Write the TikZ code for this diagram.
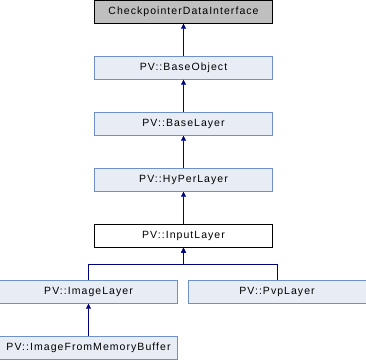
\documentclass[tikz,border=0pt]{standalone}
\usepackage{fontspec}
\setmainfont[LetterSpace=10]{Liberation Sans}
\usepackage{tikz}
\usetikzlibrary{positioning, arrows.meta}

\definecolor{boxfill}{HTML}{E8ECF4}
\definecolor{boxline}{HTML}{7090CC}
\definecolor{basefill}{HTML}{BFBFBF}
\definecolor{edgeblue}{HTML}{000080}

\tikzset{
  cls/.style={draw=boxline, fill=boxfill, minimum width=178pt, minimum height=23pt,
              inner sep=0pt, font=\fontsize{10.5}{12}\selectfont},
  iface/.style={cls, draw=black, fill=basefill},
  focus/.style={cls, draw=black, fill=white},
  inherit/.style={draw=edgeblue, thick, {Triangle[length=5pt,width=5pt]}-}
}

\begin{document}
\begin{tikzpicture}[x=1pt, y=1pt, node distance=56pt, on grid]
   \useasboundingbox (0,0) rectangle (366,-360);
   \node[iface] (cdi) at (183.5,-12) {CheckpointerDataInterface};
   \node[cls] (bo) [below=of cdi] {PV::BaseObject};
   \node[cls] (bl) [below=of bo] {PV::BaseLayer};
   \node[cls] (hpl) [below=of bl] {PV::HyPerLayer};
   \node[focus] (inp) [below=of hpl] {PV::InputLayer};
   \node[cls] (img) [below left=56pt and 95pt of inp] {PV::ImageLayer};
   \node[cls] (pvp) [below right=56pt and 93.5pt of inp] {PV::PvpLayer};
   \node[cls] (mem) [below=of img] {PV::ImageFromMemoryBuffer};
   % single inheritance chain
   \draw[inherit] (cdi) -- (bo);
   \draw[inherit] (bo) -- (bl);
   \draw[inherit] (bl) -- (hpl);
   \draw[inherit] (hpl) -- (inp);
   % fork to the two subclasses
   \draw[inherit] (inp.south) -- ++(0,-17) -| (img.north);
   \draw[inherit] (inp.south) -- ++(0,-17) -| (pvp.north);
   \draw[inherit] (img) -- (mem);
\end{tikzpicture}
\end{document}
